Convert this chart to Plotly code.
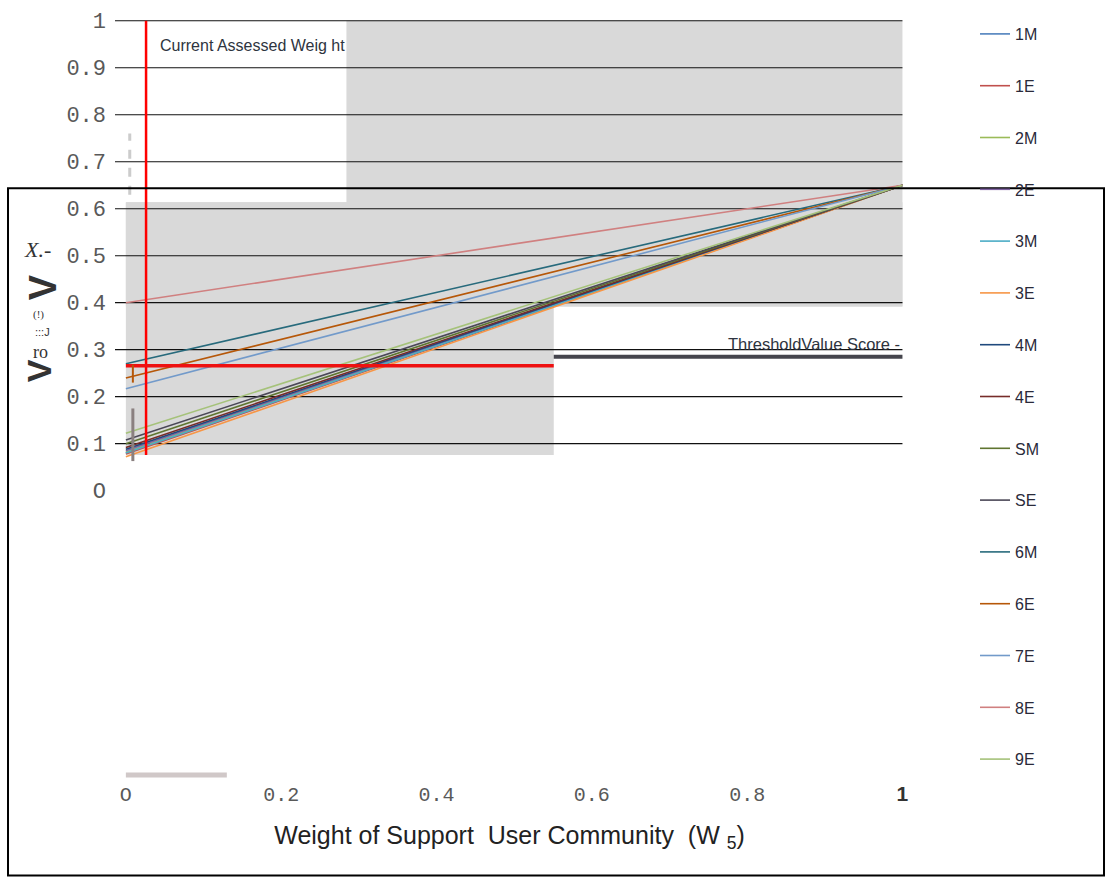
import plotly.graph_objects as go

# ---------------- data ----------------
series_names = ["1M", "1E", "2M", "2E", "3M", "3E", "4M", "4E",
                "SM", "SE", "6M", "6E", "7E", "8E", "9E"]
series_colors = ["#4f81bd", "#c0504d", "#9bbb59", "#8064a2", "#4bacc6", "#f79646",
                 "#1f497d", "#772c2a", "#5f7530", "#4b4857", "#276a7c", "#b65708",
                 "#729aca", "#d08080", "#a5c27a"]
weights = [0.0, 1.0]
scores_at_w0 = [0.080, 0.078, 0.082, 0.085, 0.080, 0.072, 0.088, 0.092,
                0.100, 0.108, 0.270, 0.240, 0.217, 0.400, 0.122]
scores_at_w1 = [0.65] * 15

current_weight = 0.026
current_score = 0.266
threshold_score = 0.285
threshold_span = [0.551, 1.0]

y_tickvals = [0, 0.1, 0.2, 0.3, 0.4, 0.5, 0.6, 0.7, 0.8, 0.9, 1]
y_ticktext = ["O", "0.1", "0.2", "0.3", "0.4", "0.5", "0.6", "0.7", "0.8", "0.9", "1"]
x_tickvals = [0, 0.2, 0.4, 0.6, 0.8, 1]
x_ticktext = ["O", "0.2", "0.4", "0.6", "0.8",
              "<span style='font-family:Liberation Sans;font-weight:bold;font-size:21px;fill:#333'>1</span>"]
grid_values = [0.1, 0.2, 0.3, 0.4, 0.5, 0.6, 0.7, 0.8, 0.9, 1.0]

# ---------------- figure ----------------
fig = go.Figure()

for i, name in enumerate(series_names):
    fig.add_trace(go.Scatter(
        x=weights, y=[scores_at_w0[i], scores_at_w1[i]], mode="lines", name=name,
        line=dict(color=series_colors[i], width=1.6), legendgroup=name,
    ))

# current assessed weight (red cross-hair)
fig.add_trace(go.Scatter(x=[current_weight, current_weight], y=[0.076, 1.0], mode="lines",
                         line=dict(color="#ff0000", width=2.5), showlegend=False, hoverinfo="skip"))
fig.add_trace(go.Scatter(x=[0.0, 0.551], y=[current_score, current_score], mode="lines",
                         line=dict(color="#ee1111", width=3.5), showlegend=False, hoverinfo="skip"))
# threshold value score
fig.add_trace(go.Scatter(x=threshold_span, y=[threshold_score, threshold_score], mode="lines",
                         line=dict(color="#45454d", width=4), showlegend=False, hoverinfo="skip"))

shapes = []
gray = "#d9d9d9"
for (x0, x1, y0, y1) in [(0.284, 1.0, 0.392, 1.0), (0.0, 1.0, 0.392, 0.614), (0.0, 0.551, 0.076, 0.614)]:
    shapes.append(dict(type="rect", xref="x", yref="y", x0=x0, x1=x1, y0=y0, y1=y1,
                       fillcolor=gray, line=dict(width=0), layer="below"))
for g in grid_values:
    shapes.append(dict(type="line", xref="x", yref="y", x0=-0.014, x1=1.0, y0=g, y1=g,
                       line=dict(color="#111111", width=1.2), layer="below"))
# small marks
shapes.append(dict(type="line", xref="x", yref="y", x0=0.009, x1=0.009, y0=0.23, y1=0.268,
                   line=dict(color="#b65708", width=2)))
shapes.append(dict(type="line", xref="x", yref="y", x0=0.009, x1=0.009, y0=0.063, y1=0.175,
                   line=dict(color="#8a8080", width=3)))
shapes.append(dict(type="line", xref="x", yref="y", x0=0.005, x1=0.005, y0=0.63, y1=0.76,
                   line=dict(color="#cccccc", width=3, dash="dash")))
shapes.append(dict(type="line", xref="x", yref="paper", x0=0.0, x1=0.13, y0=0.0, y1=0.0,
                   line=dict(color="#d0c8c8", width=5)))
# outer frame
shapes.append(dict(type="rect", xref="paper", yref="paper", x0=-0.1356, x1=1.2535, y0=-0.1327, y1=0.774,
                   line=dict(color="#000000", width=2), fillcolor="rgba(0,0,0,0)"))

annotations = [
    dict(text="Current Assessed Weig ht", x=0.041, y=0.948, xref="x", yref="y", xanchor="left",
         yanchor="middle", showarrow=False, font=dict(family="Liberation Sans", size=16, color="#2e3440")),
    dict(text="ThresholdValue Score -", x=1.0, y=threshold_score + 0.004, xref="x", yref="y",
         xanchor="right", yanchor="bottom", showarrow=False,
         font=dict(family="Liberation Sans", size=16.5, color="#2e3440")),
    # garbled y-axis title pieces
    dict(text="<i>X.-</i>", x=-0.118, y=0.712, xref="paper", yref="paper", showarrow=False,
         font=dict(family="Liberation Serif", size=22, color="#333")),
    dict(text="<b>V</b>", x=-0.121, y=0.643, xref="paper", yref="paper", showarrow=False, textangle=-90,
         font=dict(family="Liberation Sans", size=38, color="#333")),
    dict(text="(!)", x=-0.106, y=0.607, xref="paper", yref="paper", showarrow=False,
         font=dict(family="Liberation Serif", size=11, color="#333")),
    dict(text=":::J", x=-0.104, y=0.585, xref="paper", yref="paper", showarrow=False,
         font=dict(family="Liberation Sans", size=11, color="#333")),
    dict(text="ro", x=-0.106, y=0.558, xref="paper", yref="paper", showarrow=False,
         font=dict(family="Liberation Serif", size=18, color="#333")),
    dict(text="<b>V</b>", x=-0.123, y=0.534, xref="paper", yref="paper", showarrow=False, textangle=-90,
         font=dict(family="Liberation Sans", size=34, color="#333")),
]

fig.update_layout(
    width=1110, height=879,
    margin=dict(l=115, r=206, t=10, b=104),
    paper_bgcolor="white", plot_bgcolor="white",
    shapes=shapes, annotations=annotations,
    showlegend=True,
    legend=dict(x=1.09, y=1.0, xanchor="left", yanchor="top", tracegroupgap=28,
                maxheight=870,
                font=dict(family="Liberation Sans", size=16, color="#2a2a3a"),
                bgcolor="rgba(0,0,0,0)"),
    xaxis=dict(range=[-0.014, 1.002], showgrid=False, zeroline=False, showline=False,
               tickvals=x_tickvals, ticktext=x_ticktext, ticks="", ticklabelstandoff=5,
               tickfont=dict(family="Liberation Mono", size=20, color="#595959"),
               title=dict(text="Weight of Support  User Community  (W <sub>5</sub>)", standoff=20,
                          font=dict(family="Liberation Sans", size=25, color="#222"))),
    yaxis=dict(range=[-0.605, 1.008], showgrid=False, zeroline=False, showline=False,
               tickvals=y_tickvals, ticktext=y_ticktext, ticks="", ticklabelstandoff=8,
               tickfont=dict(family="Liberation Mono", size=22, color="#595959")),
)

fig.write_html("out.html", config={"displayModeBar": False},
               post_script="document.body.style.margin='0px';")
